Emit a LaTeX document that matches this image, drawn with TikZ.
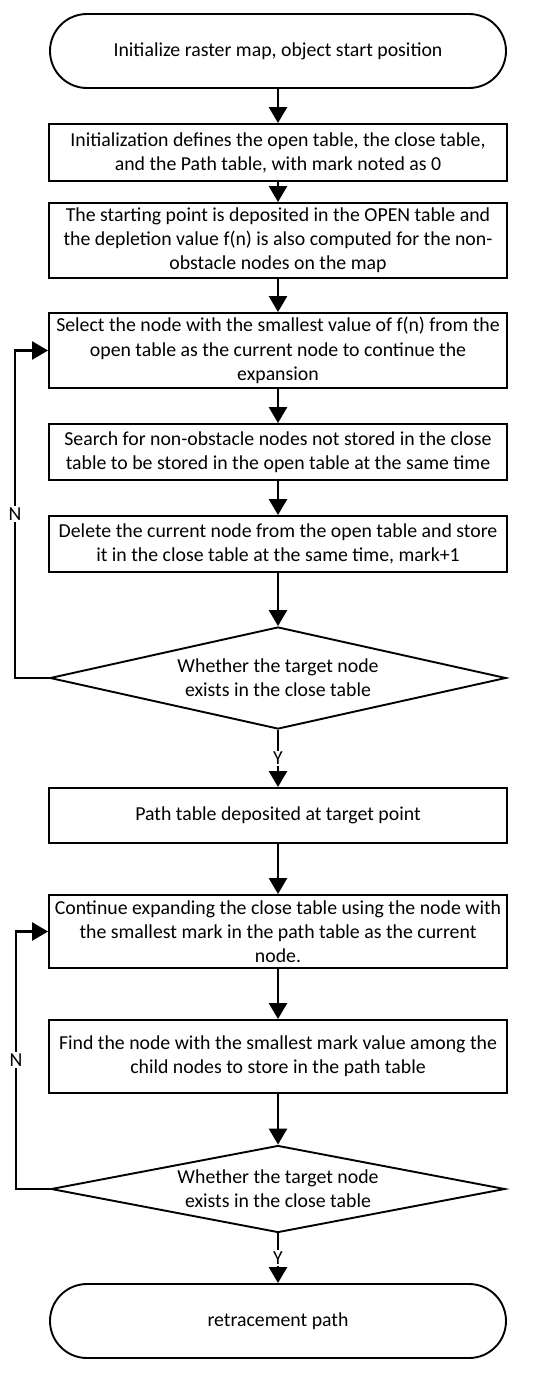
\documentclass[tikz,border=0pt]{standalone}
\usepackage{fontspec}
\setmainfont{Carlito}
\usetikzlibrary{arrows.meta,shapes.geometric}
\begin{document}
\begin{tikzpicture}[x=1pt,y=-1pt,
  txt/.style={font=\fontsize{19.8}{24.2}\selectfont},
  box/.style={draw, line width=1.9pt, minimum width=458pt, align=center, inner sep=0pt, txt},
  term/.style={box, minimum width=456pt, minimum height=74pt, rounded corners=37pt},
  dec/.style={draw, diamond, line width=1.9pt, inner sep=0pt},
  arr/.style={line width=2.6pt, -{Triangle[length=16pt,width=18pt]}},
  lbl/.style={fill=white, inner sep=1.5pt, txt}]
\useasboundingbox[fill=white] (0,0) rectangle (550,1373);

\node[term] (s) at (278,51) {Initialize raster map, object start position};
\node[box, minimum height=57pt] (b2) at (278,152.5) {Initialization defines the open table, the close table,\\and the Path table, with mark noted as 0};
\node[box, minimum height=75pt] (b3) at (278,240.5) {The starting point is deposited in the OPEN table and\\the depletion value f(n) is also computed for the non-\\obstacle nodes on the map};
\node[box, minimum height=75pt] (b4) at (278,350.5) {Select the node with the smallest value of f(n) from the\\open table as the current node to continue the\\expansion};
\node[box, minimum height=56pt] (b5) at (278,452) {Search for non-obstacle nodes not stored in the close\\table to be stored in the open table at the same time};
\node[box, minimum height=56pt] (b6) at (278,544) {Delete the current node from the open table and store\\it in the close table at the same time, mark+1};
\node[dec, minimum width=456pt, minimum height=102pt] (d1) at (278,678) {};
\node[txt, align=center] at (d1) {Whether the target node\\exists in the close table};
\node[box, minimum height=55pt] (b7) at (278,815.5) {Path table deposited at target point};
\node[box, minimum height=73pt] (b8) at (278,931.5) {Continue expanding the close table using the node with\\the smallest mark in the path table as the current\\node.};
\node[box, minimum height=73pt] (b9) at (278,1056.5) {Find the node with the smallest mark value among the\\child nodes to store in the path table};
\node[dec, minimum width=454pt, minimum height=87pt] (d2) at (278,1189) {};
\node[txt, align=center] at (d2) {Whether the target node\\exists in the close table};
\node[term] (e) at (278,1321) {retracement path};

\draw[arr] (s) -- (b2);
\draw[arr] (b2) -- (b3);
\draw[arr] (b3) -- (b4);
\draw[arr] (b4) -- (b5);
\draw[arr] (b5) -- (b6);
\draw[arr] (b6) -- (d1);
\draw[arr] (d1.south) -- (b7.north) node[lbl, pos=0.5] {Y};
\draw[arr] (b7) -- (b8);
\draw[arr] (b8) -- (b9);
\draw[arr] (b9) -- (d2);
\draw[arr] (d2.south) -- (e.north) node[lbl, pos=0.5] {Y};
\draw[arr] (d1.west) -- ++(-34,0) |- (b4.west) node[lbl, pos=0.25] {N};
\draw[arr] (d2.west) -- ++(-34,0) |- (b8.west) node[lbl, pos=0.25] {N};
\end{tikzpicture}
\end{document}
